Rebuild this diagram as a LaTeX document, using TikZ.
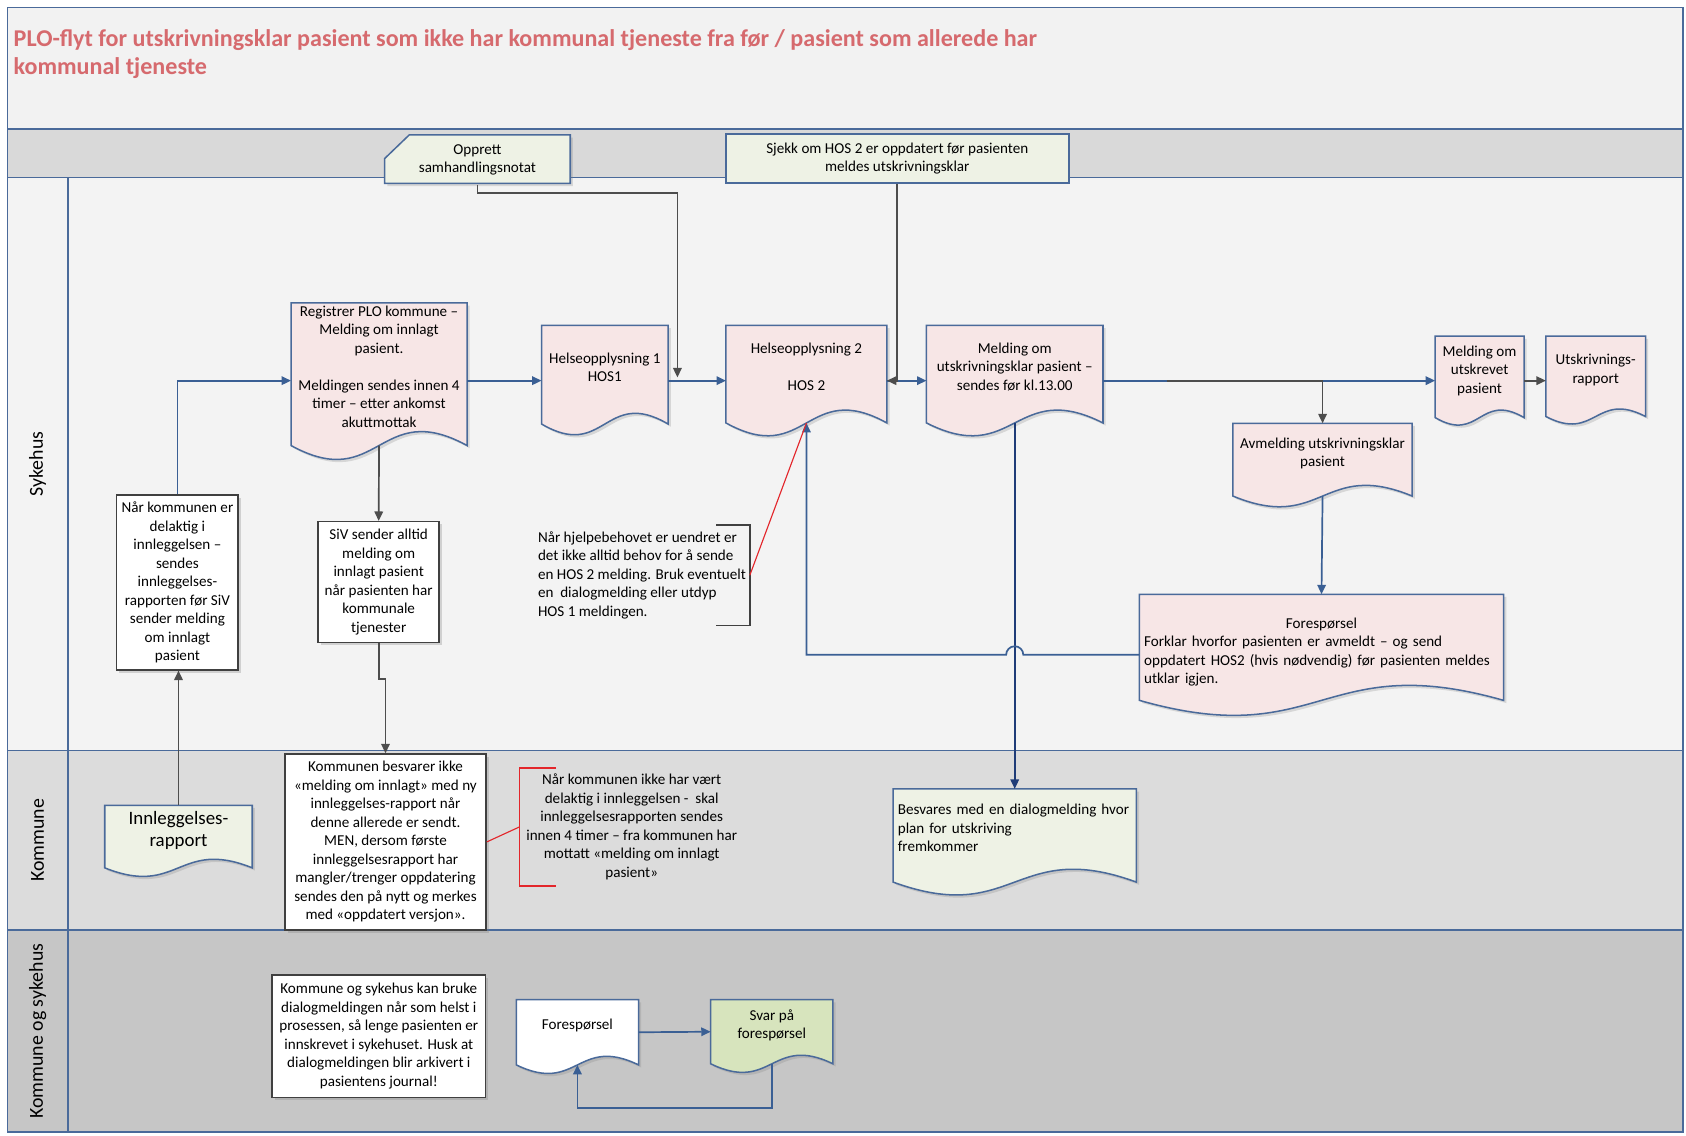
\documentclass[tikz,border=0pt]{standalone}
\usepackage{fontspec}
\setmainfont{Carlito}
\usetikzlibrary{arrows.meta,calc,backgrounds,shadows}
\definecolor{laneblue}{HTML}{4A6A9A}
\definecolor{flowblue}{HTML}{3A5F94}
\definecolor{flownavy}{HTML}{1F3C78}
\definecolor{flowgray}{HTML}{4D4D4D}
\definecolor{boxgray}{HTML}{404040}
\definecolor{docpink}{HTML}{F7E6E6}
\definecolor{doccream}{HTML}{EEF2E5}
\definecolor{docgreen}{HTML}{D7E4BD}
\definecolor{titlered}{HTML}{D66A6E}
\definecolor{bandtitle}{HTML}{F2F2F2}
\definecolor{bandhead}{HTML}{D9D9D9}
\definecolor{lanesyk}{HTML}{F3F3F3}
\definecolor{lanekom}{HTML}{DCDCDC}
\definecolor{laneboth}{HTML}{C6C6C6}
\definecolor{notered}{HTML}{E3262B}

\begin{document}
\begin{tikzpicture}[x=0.02cm, y=-0.02cm,
    txt/.style={font=\fontsize{8}{9.8}\selectfont, align=center, inner sep=0pt},
    doc/.style={txt, execute at end node={\rule[-0.28cm]{0pt}{0pt}}},
    whitebox/.style={txt, draw=boxgray, fill=white, line width=0.8pt,
                     drop shadow={shadow xshift=0.05cm,shadow yshift=-0.05cm,opacity=0.3}},
    headbox/.style={txt, draw=laneblue, fill=doccream, line width=0.8pt},
    docline/.style={draw=laneblue, line width=0.8pt,
                    drop shadow={shadow xshift=0.05cm,shadow yshift=-0.05cm,opacity=0.25}},
    note/.style={txt, align=left},
    lanelabel/.style={font=\fontsize{10.5}{12}\selectfont, rotate=90},
    lanebox/.style={draw=laneblue, line width=0.9pt},
    bluearr/.style={draw=flowblue, line width=0.9pt, -{Triangle[length=5pt,width=4.5pt]}},
    grayarr/.style={bluearr, draw=flowgray},
    redline/.style={draw=notered, line width=0.6pt}
  ]
    \useasboundingbox (0,0) rectangle (1568,1056);

    % Swimlanes
    \begin{scope}[on background layer]
      \fill[bandtitle] (7,7) rectangle (1565,120);
      \fill[bandhead] (7,120) rectangle (1565,165);
      \fill[lanesyk] (7,165) rectangle (1565,698);
      \fill[lanekom] (7,698) rectangle (1565,865);
      \fill[laneboth] (7,865) rectangle (1565,1053);
      \draw[lanebox] (7,7) rectangle (1565,1053);
      \draw[lanebox] (7,120) -- (1565,120) (7,165) -- (1565,165)
                     (7,698) -- (1565,698) (7,865) -- (1565,865) (63,165) -- (63,1053);
    \end{scope}

    \node[font=\fontsize{12.75}{15}\selectfont\bfseries, text=titlered, align=left,
          inner sep=0pt, anchor=north west] (title) at (12.4,27)
      {PLO-flyt for utskrivningsklar pasient som ikke har kommunal tjeneste fra før / pasient som allerede har\\kommunal tjeneste};

    \node[lanelabel] (syk) at (35,431.5) {Sykehus};
    \node[lanelabel] (kom) at (35,781.5) {Kommune};
    \node[lanelabel] (both) at (35,959) {Kommune og sykehus};

    \node[txt, minimum width=3.44cm, minimum height=0.91cm] (opp) at (444,148.5) {Opprett\\samhandlingsnotat};
    \node[headbox, minimum width=6.38cm, minimum height=0.91cm] (sjekk) at (834.5,147.3)
      {Sjekk om HOS 2 er oppdatert før pasienten\\meldes utskrivningsklar};

    % Sykehus
    \node[doc, minimum width=3.26cm, minimum height=2.64cm] (reg) at (352.5,348)
      {Registrer PLO kommune –\\Melding om innlagt\\pasient.\\[9.8pt]Meldingen sendes innen 4\\timer – etter ankomst\\akuttmottak};
    \node[doc, minimum width=2.34cm, minimum height=1.82cm] (hos1) at (562.5,348.5) {Helseopplysning 1\\HOS1};
    \node[doc, minimum width=2.98cm, minimum height=1.8cm] (hos2) at (750,348) {Helseopplysning 2\\[9.8pt]HOS 2};
    \node[doc, minimum width=3.27cm, minimum height=1.8cm] (mut) at (943.7,348)
      {Melding om\\utskrivningsklar pasient –\\sendes før kl.13.00};
    \node[doc, minimum width=1.64cm, minimum height=1.5cm] (mup) at (1376,350.5) {Melding om\\utskrevet\\pasient};
    \node[doc, minimum width=1.84cm, minimum height=1.48cm] (urap) at (1484,350) {Utskrivnings-\\rapport};
    \node[doc, minimum width=3.32cm, minimum height=1.34cm] (avm) at (1230,427.5) {Avmelding utskrivningsklar\\pasient};
    \node[doc, execute at end node={}, execute at begin node={\rule{0pt}{0.6cm}}, align=left,
          text width=6.6cm, minimum width=6.76cm, minimum height=1.96cm] (fsp) at (1229,602)
      {\hfill Forespørsel\hfill\null\\Forklar hvorfor pasienten er avmeldt – og send\\oppdatert HOS2 (hvis nødvendig) før pasienten meldes\\utklar igjen.};

    \node[whitebox, minimum width=2.26cm, minimum height=3.25cm] (nkb) at (165,541.7)
      {Når kommunen er\\delaktig i\\innleggelsen –\\sendes\\innleggelses-\\rapporten før SiV\\sender melding\\om innlagt\\pasient};
    \node[whitebox, minimum width=2.25cm, minimum height=2.25cm] (siv) at (352.2,541.4)
      {SiV sender alltid\\melding om\\innlagt pasient\\når pasienten har\\kommunale\\tjenester};
    \node[note, minimum width=4cm, minimum height=1.85cm] (ann1) at (597,535)
      {Når hjelpebehovet er uendret er\\det ikke alltid behov for å sende\\en HOS 2 melding. Bruk eventuelt\\en\ \ dialogmelding eller utdyp\\HOS 1 meldingen.};

    % Kommune
    \node[doc, font=\fontsize{10}{11.3}\selectfont, minimum width=2.73cm, minimum height=1.15cm] (innl) at (166,778)
      {Innleggelses-\\rapport};
    \node[whitebox, minimum width=3.74cm, minimum height=3.27cm] (kb) at (358.5,783)
      {Kommunen besvarer ikke\\«melding om innlagt» med ny\\innleggelses-rapport når\\denne allerede er sendt.\\MEN, dersom første\\innleggelsesrapport har\\mangler/trenger oppdatering\\sendes den på nytt og merkes\\med «oppdatert versjon».};
    \node[txt, minimum width=4.16cm, minimum height=2.18cm] (kann) at (587.5,769)
      {Når kommunen ikke har vært\\delaktig i innleggelsen -\ \ skal\\innleggelsesrapporten sendes\\innen 4 timer – fra kommunen har\\mottatt «melding om innlagt\\pasient»};
    \node[doc, align=left, text width=4.35cm, minimum width=4.51cm, minimum height=1.72cm] (besv) at (943.7,777)
      {Besvares med en dialogmelding hvor\\plan for utskriving\\fremkommer};

    % Kommune og sykehus
    \node[whitebox, minimum width=3.97cm, minimum height=2.28cm] (dlg) at (352.3,963.7)
      {Kommune og sykehus kan bruke\\dialogmeldingen når som helst i\\prosessen, så lenge pasienten er\\innskrevet i sykehuset. Husk at\\dialogmeldingen blir arkivert i\\pasientens journal!};
    \node[doc, minimum width=2.26cm, minimum height=1.2cm] (fq) at (537,960) {Forespørsel};
    \node[doc, minimum width=2.26cm, minimum height=1.18cm] (svar) at (717.8,959.5) {Svar på\\forespørsel};

    % Document outlines behind the texts
    \begin{scope}[on background layer]
      \foreach \nd/\fc/\wv in {reg/docpink/13, hos1/docpink/10, hos2/docpink/12, mut/docpink/12,
                               mup/docpink/7, urap/docpink/7, avm/docpink/10, fsp/docpink/14,
                               innl/doccream/8, besv/doccream/12, fq/white/8, svar/docgreen/8}
        \draw[docline, fill=\fc] (\nd.north west) -- (\nd.north east) -- (\nd.south east)
          .. controls ($(\nd.south)+(0,-3.45*\wv)$) and ($(\nd.south)+(0,3.45*\wv)$) .. (\nd.south west) -- cycle;
      \draw[docline, fill=doccream] ([yshift=0.02cm]opp.south west) -- ([yshift=0.02cm]opp.west) -- ([xshift=0.46cm]opp.north west)
        -- (opp.north east) -- ([yshift=0.02cm]opp.south east) -- cycle;
    \end{scope}

    \coordinate (flow) at (0,354);
    \coordinate (oppin) at (630,351);
    \coordinate (avmfork) at (1085,354);

    \draw[bluearr] (nkb.north) |- (reg.west |- flow);
    \draw[bluearr] (reg.east |- flow) -- (hos1.west |- flow);
    \draw[bluearr] (hos1.east |- flow) -- (hos2.west |- flow);
    \draw[bluearr] (hos2.east |- flow) -- (mut.west |- flow);
    \draw[bluearr] (mut.east |- flow) -- (mup.west |- flow);
    \draw[grayarr] (avmfork) -| (avm.north);
    \draw[grayarr] (mup.east |- flow) -- (urap.west |- flow);
    \draw[bluearr] (avm.south) -- (fsp.north);
    \draw[bluearr,draw=flownavy] (mut.south) -- (besv.north);
    \draw[bluearr] ([yshift=-0.14cm]fsp.west) coordinate (fspin) -- ($(mut.south |- fspin)+(8,0)$)
      arc[start angle=0,end angle=180,radius=0.16cm] -| (hos2.south);
    \draw[grayarr] (opp.south) -- ++(0,8) -| (oppin);
    \draw[grayarr] (sjekk.south) |- (hos2.east |- flow);
    \draw[grayarr] (reg.south) -- (siv.north);
    \draw[grayarr] (siv.south) -- ++(0,33) -| (kb.north);
    \draw[grayarr] (innl.north) -- (innl.north |- nkb.south);
    \draw[bluearr] (fq.east) -- (svar.west);
    \draw[bluearr] (svar.south) -- ++(0,41) -| (fq.south);

    % Annotation brackets
    \draw[line width=0.9pt, boxgray] ([xshift=-0.62cm]ann1.north east) -- (ann1.north east)
      -- (ann1.south east) -- ([xshift=-0.62cm]ann1.south east);
    \draw[redline] (ann1.east) -- (hos2.south);
    \draw[redline, line width=0.9pt] ([xshift=0.68cm]kann.north west) -- (kann.north west)
      -- (kann.south west) -- ([xshift=0.68cm]kann.south west);
    \draw[redline] (kb.east) -- (kann.west);
  \end{tikzpicture}
\end{document}
